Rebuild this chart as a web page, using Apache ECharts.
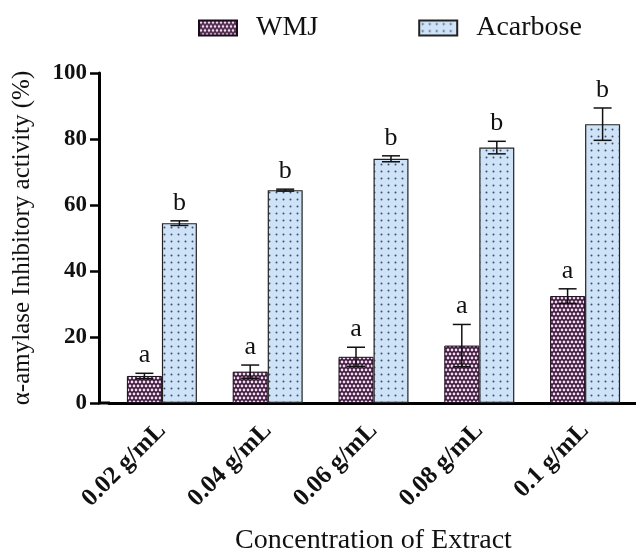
<!DOCTYPE html>
<html>
<head>
<meta charset="utf-8">
<script src="https://cdn.jsdelivr.net/npm/echarts@6/dist/echarts.min.js"></script>
<style>
  html, body { margin: 0; padding: 0; background: #fff; }
  #chart { width: 636px; height: 554px; }
</style>
</head>
<body>
<div id="chart"></div>
<script>
var categories = ['0.02 g/mL', '0.04 g/mL', '0.06 g/mL', '0.08 g/mL', '0.1 g/mL'];
var wmjValues = [8.2, 9.5, 14.0, 17.4, 32.4];
var wmjErrors = [0.8, 2.0, 2.9, 6.4, 2.2];
var wmjLetters = ['a', 'a', 'a', 'a', 'a'];
var acarboseValues = [54.5, 64.5, 74.0, 77.4, 84.5];
var acarboseErrors = [0.7, 0.3, 0.9, 1.9, 4.9];
var acarboseLetters = ['b', 'b', 'b', 'b', 'b'];
var yTicks = [0, 20, 40, 60, 80, 100];

var serif = 'Liberation Serif';

function makePattern(bg, dot, step, r, offsetRows){
  var c = document.createElement('canvas');
  c.width = step; c.height = offsetRows ? step * 2 : step;
  var ctx = c.getContext('2d');
  ctx.fillStyle = bg;
  ctx.fillRect(0, 0, c.width, c.height);
  ctx.fillStyle = dot;
  ctx.beginPath();
  ctx.arc(step / 2, step / 2, r, 0, Math.PI * 2);
  ctx.fill();
  if (offsetRows) {
    ctx.beginPath();
    ctx.arc(0, step * 1.5, r, 0, Math.PI * 2);
    ctx.arc(step, step * 1.5, r, 0, Math.PI * 2);
    ctx.fill();
  }
  return { image: c, repeat: 'repeat' };
}

var wmjFill = makePattern('#3a1838', '#f3d9f1', 4, 1.4, true);
var acarboseFill = makePattern('#cfe3f8', '#3f4d6b', 7, 1.0, false);

function errorSeries(name, values, errors, letters, shift){
  return {
    type: 'custom',
    name: name,
    z: 5,
    data: values.map(function(v, i){ return [i, v, errors[i]]; }),
    renderItem: function(params, api){
      var i = api.value(0), v = api.value(1), e = api.value(2);
      var top = api.coord([i, v + e]);
      var bot = api.coord([i, v - e]);
      var x = top[0] + shift;
      var half = 9;
      var st = { stroke: '#111', lineWidth: 1.5 };
      return {
        type: 'group',
        children: [
          { type: 'line', shape: { x1: x, y1: top[1], x2: x, y2: bot[1] }, style: st },
          { type: 'line', shape: { x1: x - half, y1: top[1], x2: x + half, y2: top[1] }, style: st },
          { type: 'line', shape: { x1: x - half, y1: bot[1], x2: x + half, y2: bot[1] }, style: st },
          { type: 'text', x: x, y: top[1] - 5,
            style: { text: letters[params.dataIndex], fill: '#111', font: '26px "Liberation Serif"',
                     align: 'center', verticalAlign: 'bottom' } }
        ]
      };
    }
  };
}

var chart = echarts.init(document.getElementById('chart'));
var option = {
  animation: false,
  backgroundColor: '#fff',
  legend: {
    top: 9,
    left: 193,
    icon: 'rect',
    itemWidth: 38,
    itemHeight: 15,
    itemGap: 100,
    data: ['WMJ', 'Acarbose'],
    textStyle: { fontFamily: serif, fontSize: 28, color: '#111', padding: [0, 0, 0, 14] }
  },
  grid: { left: 109, right: -2, top: 73, bottom: 151, containLabel: false, outerBoundsMode: 'none' },
  xAxis: {
    type: 'category',
    data: categories,
    name: 'Concentration of Extract',
    nameLocation: 'middle',
    nameGap: 124,
    nameTextStyle: { fontFamily: serif, fontSize: 28, color: '#111' },
    axisLine: { lineStyle: { color: '#000', width: 3 } },
    axisTick: { alignWithLabel: true, length: 8, lineStyle: { color: '#000', width: 3 } },
    axisLabel: { rotate: 45, margin: 24, fontFamily: serif, fontWeight: 'bold', fontSize: 25, color: '#111' }
  },
  yAxis: {
    type: 'value',
    min: 0, max: 100, interval: 20,
    offset: 10,
    name: 'α-amylase Inhibitory activity (%)',
    nameLocation: 'middle',
    nameGap: 64,
    nameTextStyle: { fontFamily: serif, fontSize: 25, color: '#111' },
    splitLine: { show: false },
    axisLine: { show: true, lineStyle: { color: '#000', width: 3 } },
    axisTick: { show: true, length: 9, lineStyle: { color: '#000', width: 2.5 } },
    axisLabel: { margin: 12, fontFamily: serif, fontWeight: 'bold', fontSize: 23, color: '#111',
      formatter: function(v){ return yTicks.indexOf(v) >= 0 ? String(v) : ''; } }
  },
  graphic: [
    { type: 'line', shape: { x1: 98, y1: 403, x2: 110, y2: 403 }, style: { stroke: '#000', lineWidth: 3 } }
  ],
  series: [
    { name: 'WMJ', type: 'bar', data: wmjValues, barWidth: 35, barGap: '0%',
      itemStyle: { color: wmjFill, borderColor: '#1a0a1a', borderWidth: 1 } },
    { name: 'Acarbose', type: 'bar', data: acarboseValues, barWidth: 35,
      itemStyle: { color: acarboseFill, borderColor: '#222', borderWidth: 1.2 } },
    errorSeries('WMJ err', wmjValues, wmjErrors, wmjLetters, -17.5),
    errorSeries('Acarbose err', acarboseValues, acarboseErrors, acarboseLetters, 17.5)
  ]
};
option && chart.setOption(option);
</script>
</body>
</html>
